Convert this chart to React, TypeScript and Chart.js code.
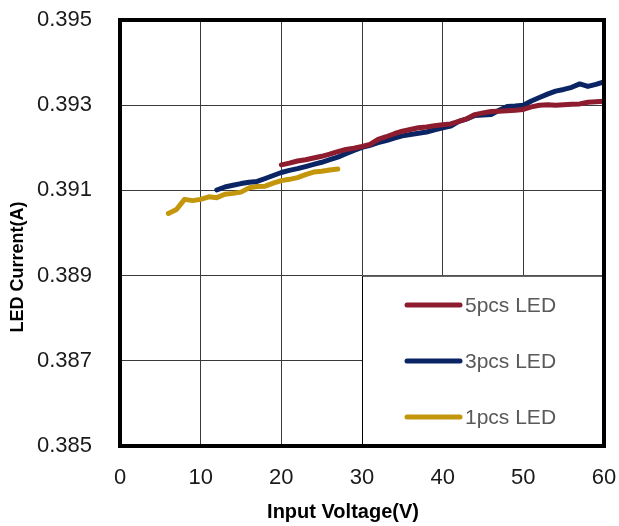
import React, { useEffect, useRef } from "react";
import { Chart, registerables } from "chart.js";

Chart.register(...registerables);

// Input voltage (V) sample points and LED current (A) for each configuration
const voltage5pcs = [20, 21, 22, 23, 24, 25, 26, 27, 28, 29, 30, 31, 32, 33, 34, 35, 36, 37, 38, 39, 40, 41, 42, 43, 44, 45, 46, 47, 48, 49, 50, 51, 52, 53, 54, 55, 56, 57, 58, 59, 60];
const current5pcs = [0.3916, 0.39164, 0.39169, 0.39172, 0.39176, 0.3918, 0.39185, 0.39191, 0.39196, 0.39199, 0.39203, 0.39208, 0.3922, 0.39226, 0.39233, 0.39239, 0.39243, 0.39247, 0.39249, 0.39252, 0.39254, 0.39256, 0.39262, 0.39268, 0.39278, 0.39282, 0.39285, 0.39286, 0.39287, 0.39288, 0.3929, 0.39296, 0.393, 0.39301, 0.393, 0.39301, 0.39302, 0.39303, 0.39307, 0.39308, 0.39309];

const voltage3pcs = [12, 13, 14, 15, 16, 17, 18, 19, 20, 21, 22, 23, 24, 25, 26, 27, 28, 29, 30, 31, 32, 33, 34, 35, 36, 37, 38, 39, 40, 41, 42, 43, 44, 45, 46, 47, 48, 49, 50, 51, 52, 53, 54, 55, 56, 57, 58, 59, 60];
const current3pcs = [0.39101, 0.39108, 0.39112, 0.39116, 0.39119, 0.39121, 0.39128, 0.39135, 0.39142, 0.39147, 0.39151, 0.39156, 0.39161, 0.39166, 0.39172, 0.39178, 0.39186, 0.39194, 0.39201, 0.39206, 0.39212, 0.39217, 0.39223, 0.39228, 0.39231, 0.39234, 0.39237, 0.39242, 0.39247, 0.39251, 0.39262, 0.39268, 0.39276, 0.39277, 0.39278, 0.39288, 0.39297, 0.39298, 0.393, 0.3931, 0.39318, 0.39326, 0.39333, 0.39337, 0.39342, 0.3935, 0.39344, 0.39349, 0.39355];

const voltage1pcs = [6, 7, 8, 9, 10, 11, 12, 13, 14, 15, 16, 17, 18, 19, 20, 21, 22, 23, 24, 25, 26, 27];
const current1pcs = [0.39046, 0.39055, 0.39079, 0.39076, 0.39079, 0.39085, 0.39083, 0.39091, 0.39093, 0.39096, 0.39106, 0.39109, 0.3911, 0.39117, 0.39123, 0.39126, 0.3913, 0.39137, 0.39143, 0.39145, 0.39148, 0.3915];

const seriesLabels = ["5pcs LED", "3pcs LED", "1pcs LED"];
const seriesColors = ["#8C1C2E", "#0B2464", "#C4960C"];

const xTickLabels = ["0", "10", "20", "30", "40", "50", "60"];
const yTickLabels = ["0.385", "0.387", "0.389", "0.391", "0.393", "0.395"];

const xTitle = "Input Voltage(V)";
const yTitle = "LED Current(A)";

const FONT = "'Liberation Sans', Arial, Helvetica, sans-serif";

const toPoints = (xs: number[], ys: number[]) => xs.map((x, i) => ({ x, y: ys[i] }));

const framePlugin = {
  id: "frameAndLegend",
  afterDatasetsDraw(chart: any) {
    const { ctx, chartArea, scales } = chart;
    const xs = scales.x;
    const ys = scales.y;
    ctx.save();
    // legend box inside plot area
    const bx = xs.getPixelForValue(30);
    const by = ys.getPixelForValue(0.389);
    const bRight = chartArea.right;
    const bBottom = chartArea.bottom;
    ctx.fillStyle = "#ffffff";
    ctx.fillRect(bx, by, bRight - bx, bBottom - by);
    ctx.strokeStyle = "#000000";
    ctx.lineWidth = 1;
    ctx.beginPath();
    ctx.moveTo(bx + 0.5, bBottom);
    ctx.lineTo(bx + 0.5, by + 0.5);
    ctx.lineTo(bRight, by + 0.5);
    ctx.stroke();

    chart.data.datasets.forEach((ds: any, i: number) => {
      const cy = by + 29.5 + i * 56;
      ctx.strokeStyle = ds.borderColor;
      ctx.lineWidth = 5;
      ctx.lineCap = "round";
      ctx.beginPath();
      ctx.moveTo(bx + 45, cy);
      ctx.lineTo(bx + 98, cy);
      ctx.stroke();
      ctx.fillStyle = "#595959";
      ctx.font = `21px ${FONT}`;
      ctx.textBaseline = "middle";
      ctx.textAlign = "left";
      ctx.fillText(ds.label, bx + 103, cy + 1);
    });

    // thick frame
    ctx.strokeStyle = "#000000";
    ctx.lineWidth = 4;
    ctx.lineCap = "butt";
    ctx.strokeRect(chartArea.left, chartArea.top, chartArea.right - chartArea.left, chartArea.bottom - chartArea.top);

    // axis titles
    ctx.fillStyle = "#000000";
    ctx.font = `bold 20px ${FONT}`;
    ctx.textAlign = "center";
    ctx.textBaseline = "middle";
    ctx.fillText(xTitle, 343, 512);

    ctx.translate(18, 267);
    ctx.rotate(-Math.PI / 2);
    ctx.font = `bold 18px ${FONT}`;
    ctx.fillText(yTitle, 0, 0);
    ctx.restore();
  },
};

export default function App() {
  const canvasRef = useRef<HTMLCanvasElement | null>(null);

  useEffect(() => {
    if (!canvasRef.current) return;
    const chart = new Chart(canvasRef.current, {
      type: "line",
      data: {
        datasets: [
          { label: seriesLabels[0], data: toPoints(voltage5pcs, current5pcs), borderColor: seriesColors[0], backgroundColor: seriesColors[0] },
          { label: seriesLabels[1], data: toPoints(voltage3pcs, current3pcs), borderColor: seriesColors[1], backgroundColor: seriesColors[1] },
          { label: seriesLabels[2], data: toPoints(voltage1pcs, current1pcs), borderColor: seriesColors[2], backgroundColor: seriesColors[2] },
        ],
      },
      options: {
        animation: false,
        responsive: false,
        maintainAspectRatio: false,
        layout: { padding: { left: 0, top: 20, right: 15, bottom: 0 } },
        elements: {
          point: { radius: 0 },
          line: { borderWidth: 5, tension: 0, borderCapStyle: "round", borderJoinStyle: "round" },
        },
        plugins: { legend: { display: false }, tooltip: { enabled: false } },
        scales: {
          x: {
            type: "linear",
            min: 0,
            max: 60,
            ticks: {
              stepSize: 10,
              maxRotation: 0,
              autoSkip: false,
              padding: 19,
              color: "#1a1a1a",
              font: { family: FONT, size: 22 },
              callback: (_v: any, i: number) => xTickLabels[i],
            },
            grid: { color: "#3a3a3a", lineWidth: 1, drawTicks: false },
            border: { display: false },
            afterFit: (s: any) => {
              s.height = 80;
              s.paddingLeft = 0;
              s.paddingRight = 0;
            },
          },
          y: {
            type: "linear",
            min: 0.385,
            max: 0.395,
            ticks: {
              stepSize: 0.002,
              autoSkip: false,
              padding: 28,
              color: "#1a1a1a",
              font: { family: FONT, size: 22 },
              callback: (_v: any, i: number) => yTickLabels[i],
            },
            grid: { color: "#3a3a3a", lineWidth: 1, drawTicks: false },
            border: { display: false },
            afterFit: (s: any) => {
              s.width = 120;
              s.paddingTop = 0;
              s.paddingBottom = 0;
            },
          },
        },
      },
      plugins: [framePlugin],
    } as any);
    return () => chart.destroy();
  }, []);

  return (
    <div style={{ position: "absolute", left: 0, top: 0, width: 619, height: 526, background: "#fff" }}>
      <canvas ref={canvasRef} width={619} height={526} style={{ width: 619, height: 526, display: "block" }} />
    </div>
  );
}
